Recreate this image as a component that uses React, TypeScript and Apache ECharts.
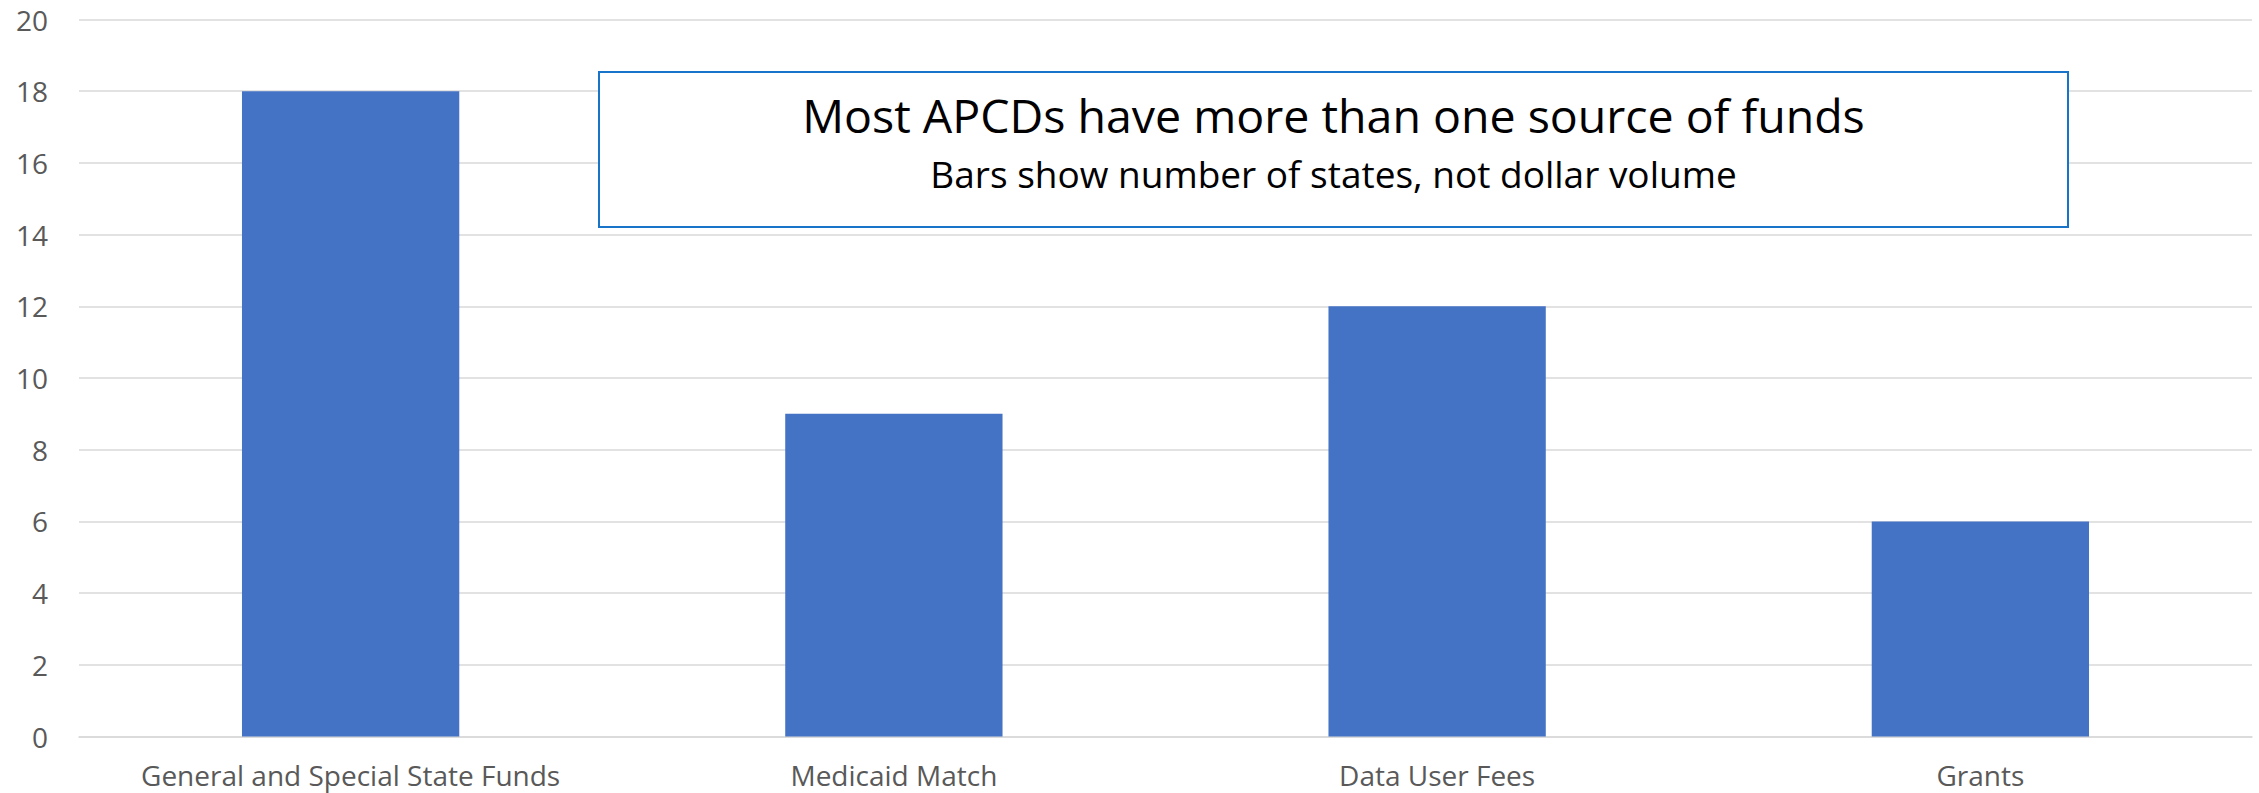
import React, { useEffect, useRef } from "react";
import * as echarts from "echarts";

const categories = [
  "General and Special State Funds",
  "Medicaid Match",
  "Data User Fees",
  "Grants",
];
const stateCounts = [18, 9, 12, 6];
const yTicks = { min: 0, max: 20, interval: 2 };
const titleText = "Most APCDs have more than one source of funds";
const subtitleText = "Bars show number of states, not dollar volume";

const W = 2259;
const H = 793;

export default function App() {
  const ref = useRef<HTMLDivElement>(null);
  useEffect(() => {
    if (!ref.current) return;
    const chart = echarts.init(ref.current, undefined, { renderer: "svg" });
    const font = "'Open Sans', sans-serif";
    chart.setOption({
      animation: false,
      backgroundColor: "#ffffff",
      grid: { left: 79, right: 7, top: 19.5, bottom: 56.5, containLabel: false },
      xAxis: {
        type: "category",
        data: categories,
        axisLine: { show: true, lineStyle: { color: "#D9D9D9", width: 1.5 } },
        axisTick: { show: false },
        axisLabel: {
          color: "#595959",
          fontFamily: font,
          fontSize: 28,
          margin: 24,
          interval: 0,
        },
      },
      yAxis: {
        type: "value",
        min: yTicks.min,
        max: yTicks.max,
        interval: yTicks.interval,
        axisLine: { show: false },
        axisTick: { show: false },
        splitLine: { lineStyle: { color: "#D9D9D9", width: 1.5 } },
        axisLabel: {
          color: "#595959",
          fontFamily: font,
          fontSize: 28,
          margin: 31,
        },
      },
      series: [
        {
          type: "bar",
          data: stateCounts,
          barCategoryGap: "60%",
          itemStyle: { color: "#4472C4" },
        },
      ],
      graphic: [
        {
          type: "rect",
          shape: { x: 599, y: 72, width: 1469, height: 155 },
          style: { fill: "#ffffff", stroke: "#1874C8", lineWidth: 2 },
          z: 100,
        },
        {
          type: "text",
          x: 1333.5,
          y: 115,
          style: {
            text: titleText,
            fill: "#000000",
            font: `46.5px ${font}`,
            align: "center",
            verticalAlign: "middle",
          },
          z: 101,
        },
        {
          type: "text",
          x: 1333.5,
          y: 173.5,
          style: {
            text: subtitleText,
            fill: "#000000",
            font: `37px ${font}`,
            align: "center",
            verticalAlign: "middle",
          },
          z: 101,
        },
      ],
    });
    return () => chart.dispose();
  }, []);
  return (
    <div
      ref={ref}
      style={{ position: "fixed", left: 0, top: 0, width: W, height: H }}
    />
  );
}
